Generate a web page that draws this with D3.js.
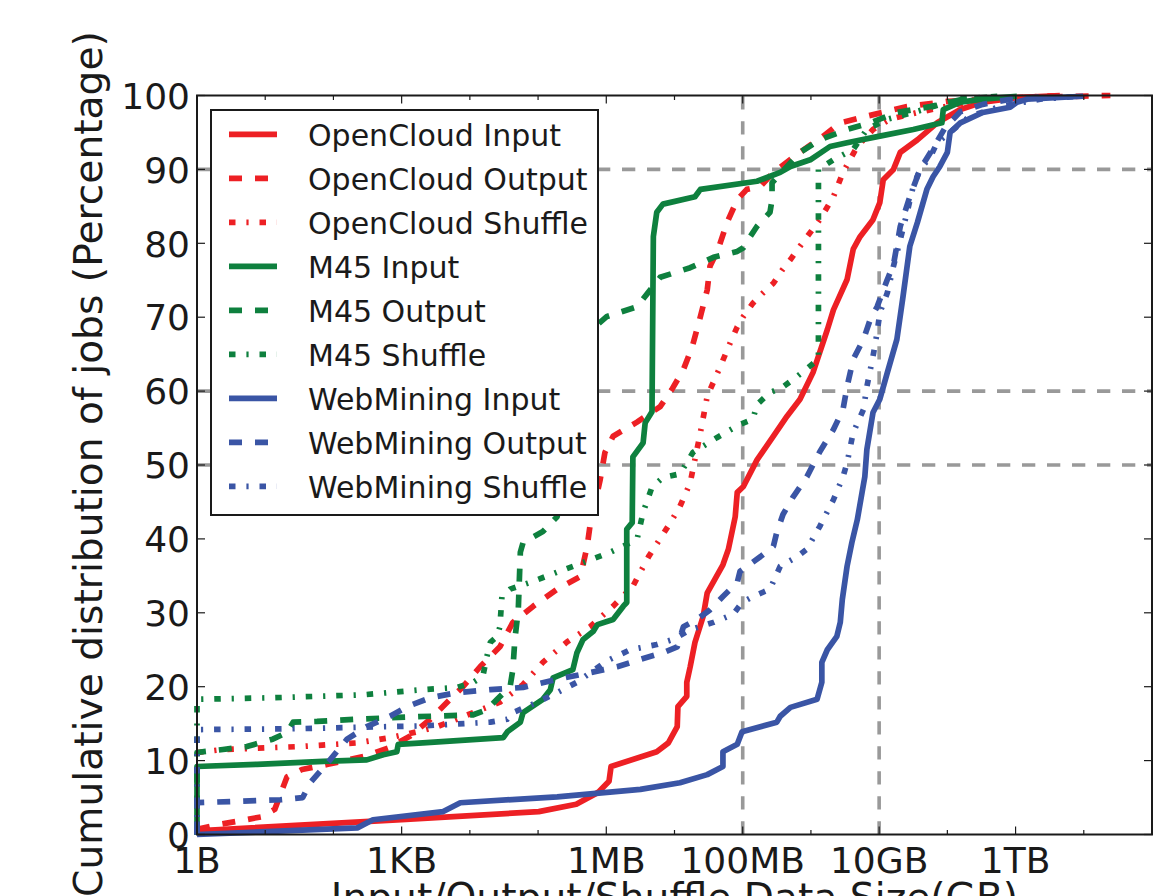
<!DOCTYPE html>
<html><head><meta charset="utf-8">
<script src="https://cdn.jsdelivr.net/npm/d3@7"></script>
<style>
body{margin:0;background:#fff}
svg{display:block}
text{font-family:"DejaVu Sans","Bitstream Vera Sans",sans-serif;fill:#1a1a1a}
</style>
</head><body>
<svg id="chart" width="1155" height="896"></svg>
<script>
// ---------------- data (sizes are log10 of bytes, values are % of jobs) ----------------
const tickExponents = [0, 3, 6, 8, 10, 12];
const tickLabels = ["1B", "1KB", "1MB", "100MB", "10GB", "1TB"];
const yTickValues = [0, 10, 20, 30, 40, 50, 60, 70, 80, 90, 100];
const refLinePercents = [50, 60, 90];
const refLineExponents = [8, 10];

const seriesNames = ["OpenCloud Input", "OpenCloud Output", "OpenCloud Shuffle",
  "M45 Input", "M45 Output", "M45 Shuffle",
  "WebMining Input", "WebMining Output", "WebMining Shuffle"];

const openCloudInputSize = [0, 3.0, 5.01, 5.56, 5.88, 6.04, 6.07, 6.74, 6.91, 7.04, 7.05, 7.18, 7.18, 7.23, 7.30, 7.42, 7.48, 7.71, 7.79, 7.89, 7.92, 8.01, 8.21, 8.45, 8.65, 8.84, 9.03, 9.24, 9.33, 9.53, 9.62, 9.72, 9.91, 10.01, 10.06, 10.21, 10.31, 10.56, 10.85, 11.19, 11.52, 12.02, 12.65];
const openCloudInputPct = [0.5, 2.0, 3.1, 4.1, 5.7, 7.2, 9.2, 11.2, 12.4, 14.6, 17.3, 18.7, 20.6, 22.7, 26.0, 29.5, 32.7, 36.5, 38.6, 43.0, 46.3, 47.1, 50.7, 53.9, 56.6, 58.9, 62.5, 68.3, 71.0, 75.1, 79.2, 80.9, 83.2, 85.5, 88.6, 90.0, 92.3, 94.0, 96.3, 98.1, 99.1, 99.7, 100];

const openCloudOutputSize = [0, 0.29, 0.60, 0.95, 1.14, 1.25, 1.32, 1.54, 1.92, 2.46, 2.83, 3.12, 3.42, 3.71, 3.90, 4.15, 4.44, 4.63, 4.93, 5.28, 5.62, 5.72, 5.76, 5.91, 5.98, 6.10, 6.45, 6.79, 6.96, 7.13, 7.26, 7.38, 7.48, 7.52, 7.64, 7.77, 7.92, 8.06, 8.26, 8.45, 8.84, 9.18, 9.43, 9.82, 10.41, 11.0, 12.02, 13.39];
const openCloudOutputPct = [0.7, 1.3, 1.8, 2.4, 3.4, 6.1, 7.8, 8.8, 9.5, 10.6, 11.8, 13.3, 15.6, 18.3, 20.0, 22.7, 25.4, 28.7, 30.9, 33.2, 34.9, 39.0, 41.7, 48.0, 51.7, 53.9, 55.8, 57.9, 60.2, 62.9, 66.0, 70.1, 73.7, 76.9, 79.2, 82.8, 85.9, 87.3, 87.7, 89.6, 92.3, 94.5, 96.3, 97.2, 98.5, 99.2, 99.7, 100];

const openCloudShuffleSize = [0, 0.38, 1.51, 2.35, 2.83, 3.23, 3.52, 3.81, 4.05, 4.25, 4.44, 4.63, 4.78, 5.07, 5.43, 5.76, 6.10, 6.39, 6.62, 6.94, 7.08, 7.23, 7.38, 7.48, 7.67, 7.82, 7.92, 8.01, 8.15, 8.30, 8.45, 8.58, 8.70, 8.84, 9.13, 9.33, 9.47, 9.68, 9.91, 10.16, 10.56, 11.19, 12.02, 12.65];
const openCloudShufflePct = [11.1, 11.5, 11.9, 12.4, 13.1, 13.9, 14.6, 15.6, 16.5, 17.2, 17.9, 19.2, 20.3, 23.3, 26.1, 28.1, 30.9, 33.6, 37.6, 42.2, 44.4, 47.6, 54.4, 59.3, 63.3, 66.6, 68.7, 70.1, 71.9, 73.3, 74.6, 76.4, 77.8, 79.6, 83.2, 86.3, 89.6, 93.1, 95.4, 96.8, 97.7, 98.9, 99.7, 100];

const m45InputSize = [0, 0, 0.88, 1.85, 2.49, 2.73, 2.93, 2.95, 3.31, 4.49, 4.55, 4.74, 4.78, 5.07, 5.18, 5.22, 5.51, 5.57, 5.66, 5.81, 5.87, 6.10, 6.25, 6.30, 6.30, 6.38, 6.39, 6.54, 6.57, 6.67, 6.69, 6.74, 6.83, 7.30, 7.38, 8.21, 8.55, 8.70, 8.99, 9.28, 9.53, 10.01, 10.50, 10.92, 10.94, 11.19, 11.52, 12.02];
const m45InputPct = [0, 9.2, 9.5, 9.9, 10.1, 10.8, 11.2, 12.2, 12.4, 13.1, 13.9, 15.2, 16.5, 18.3, 19.6, 21.2, 22.3, 24.6, 26.4, 27.5, 28.4, 29.1, 30.9, 31.4, 41.3, 42.2, 51.1, 53.0, 55.7, 57.2, 80.9, 84.2, 85.3, 86.3, 87.3, 88.4, 89.6, 90.4, 91.3, 93.1, 93.6, 94.5, 95.4, 96.3, 98.1, 99.1, 99.5, 99.9];

const m45OutputSize = [0, 0, 0.38, 0.73, 1.11, 1.32, 1.41, 1.76, 2.35, 2.83, 3.42, 4.05, 4.25, 4.40, 4.59, 4.63, 4.66, 4.71, 4.74, 4.78, 5.07, 5.28, 5.62, 6.01, 6.45, 6.79, 7.23, 7.57, 7.92, 8.01, 8.11, 8.21, 8.40, 8.43, 8.43, 8.65, 8.84, 9.13, 9.53, 9.87, 10.26, 10.75, 11.23, 11.77];
const m45OutputPct = [0, 11.1, 11.5, 11.9, 12.9, 13.8, 15.2, 15.3, 15.6, 15.8, 16.0, 16.2, 16.9, 18.3, 20.0, 22.3, 26.4, 30.4, 38.2, 39.5, 41.0, 43.0, 67.0, 70.1, 71.4, 75.4, 76.7, 78.1, 78.9, 79.4, 80.9, 82.3, 84.2, 85.9, 88.2, 90.4, 92.3, 94.0, 95.4, 96.3, 97.7, 98.5, 99.5, 99.9];

const m45ShuffleSize = [0, 0, 1.11, 2.43, 3.31, 3.81, 4.05, 4.19, 4.25, 4.30, 4.40, 4.44, 4.47, 4.59, 4.88, 5.28, 5.66, 6.06, 6.45, 6.54, 6.67, 6.83, 7.08, 7.27, 7.62, 7.96, 8.15, 8.21, 8.40, 8.58, 8.80, 9.11, 9.11, 9.33, 9.62, 9.82, 10.12, 10.50, 10.79, 11.14, 11.77];
const m45ShufflePct = [0, 18.3, 18.5, 18.9, 19.6, 19.9, 20.6, 21.4, 24.1, 26.0, 26.8, 28.1, 32.2, 33.2, 34.1, 35.5, 36.8, 38.2, 39.9, 43.6, 47.0, 48.3, 48.8, 51.7, 53.7, 55.5, 56.2, 58.2, 59.8, 60.5, 62.0, 64.3, 90.0, 91.3, 92.7, 95.4, 96.8, 97.7, 98.5, 99.5, 99.9];

const webMiningInputSize = [0, 2.35, 2.58, 3.61, 3.86, 5.28, 6.50, 7.08, 7.48, 7.71, 7.71, 7.92, 7.99, 8.50, 8.55, 8.70, 9.09, 9.16, 9.16, 9.24, 9.38, 9.43, 9.46, 9.53, 9.60, 9.68, 9.75, 9.79, 9.82, 9.91, 10.01, 10.12, 10.26, 10.35, 10.45, 10.56, 10.70, 10.79, 10.89, 11.0, 11.04, 11.19, 11.52, 11.92, 12.02, 12.17, 12.99];
const webMiningInputPct = [0, 0.9, 2.0, 3.1, 4.3, 5.1, 6.1, 7.0, 8.1, 9.2, 11.2, 12.2, 13.9, 15.2, 16.0, 17.2, 18.3, 20.6, 23.3, 25.0, 26.8, 28.7, 31.8, 36.3, 39.5, 42.6, 46.3, 48.4, 52.1, 57.1, 58.9, 62.5, 67.0, 72.8, 79.6, 82.8, 87.3, 89.0, 90.4, 92.3, 95.0, 96.3, 97.7, 98.4, 99.1, 99.5, 99.9];

const webMiningOutputSize = [0, 0, 1.22, 1.55, 1.66, 1.95, 2.20, 2.49, 2.83, 3.08, 3.42, 3.81, 4.30, 4.78, 5.28, 5.76, 6.16, 6.50, 6.83, 7.04, 7.13, 7.33, 7.52, 7.71, 7.92, 7.96, 8.26, 8.45, 8.50, 8.59, 8.74, 8.94, 9.13, 9.33, 9.47, 9.53, 9.62, 9.77, 9.87, 9.97, 10.12, 10.21, 10.31, 10.45, 10.60, 10.78, 10.97, 11.19, 11.52, 11.92, 12.51];
const webMiningOutputPct = [0, 4.3, 4.7, 5.0, 7.0, 10.1, 12.9, 14.6, 16.0, 17.3, 18.5, 19.2, 19.6, 19.9, 21.0, 21.9, 22.7, 23.7, 24.6, 25.4, 28.1, 29.1, 30.4, 32.2, 34.1, 35.6, 37.6, 39.0, 40.9, 43.3, 45.7, 48.4, 51.8, 54.8, 57.5, 60.6, 64.3, 67.0, 69.7, 71.4, 75.1, 77.1, 82.3, 86.3, 90.0, 92.7, 95.7, 97.8, 98.8, 99.5, 99.9];

const webMiningShuffleSize = [0, 0, 1.36, 2.35, 3.31, 4.30, 4.55, 4.63, 4.99, 5.28, 5.57, 6.01, 6.35, 6.74, 6.98, 7.23, 7.57, 7.86, 7.99, 8.15, 8.40, 8.55, 8.80, 8.94, 9.13, 9.33, 9.47, 9.53, 9.62, 9.77, 9.82, 9.91, 9.97, 10.01, 10.12, 10.21, 10.31, 10.41, 10.50, 10.60, 10.75, 10.85, 11.09, 11.33, 11.77, 12.36, 12.95];
const webMiningShufflePct = [0, 14.2, 14.3, 14.5, 14.7, 15.2, 15.6, 16.5, 17.9, 19.2, 20.6, 23.5, 25.0, 25.7, 26.4, 27.7, 28.7, 29.8, 31.4, 32.2, 33.2, 36.3, 37.6, 38.6, 41.7, 45.3, 48.4, 50.3, 54.4, 57.5, 60.6, 64.7, 67.9, 70.6, 73.3, 76.9, 80.5, 84.2, 87.7, 90.0, 91.7, 93.6, 95.4, 97.2, 98.5, 99.5, 99.9];

const seriesSizes = [openCloudInputSize, openCloudOutputSize, openCloudShuffleSize,
  m45InputSize, m45OutputSize, m45ShuffleSize,
  webMiningInputSize, webMiningOutputSize, webMiningShuffleSize];
const seriesPcts = [openCloudInputPct, openCloudOutputPct, openCloudShufflePct,
  m45InputPct, m45OutputPct, m45ShufflePct,
  webMiningInputPct, webMiningOutputPct, webMiningShufflePct];

// ---------------- styles ----------------
const palette = {red: "#ed2024", green: "#0e803e", blue: "#3a55a5"};
const seriesColors = [palette.red, palette.red, palette.red, palette.green, palette.green, palette.green, palette.blue, palette.blue, palette.blue];
const dashStyles = {solid: null, dashed: "13,13", dashdot: "6.5,10.9,2.2,10.9"};
const seriesDash = ["solid", "dashed", "dashdot", "solid", "dashed", "dashdot", "solid", "dashed", "dashdot"];
const lineW = 5.7;

const svg = d3.select("#chart");
const plot = {left: 197, right: 1152, top: 95.5, bottom: 834.5};

const x = d3.scaleLog().domain([1, 1e14]).range([plot.left, plot.right]);
const y = d3.scaleLinear().domain([0, 100]).range([plot.bottom, plot.top]);

svg.append("rect").attr("width", 1155).attr("height", 896).attr("fill", "#fff");

// reference dashed grey lines
const refG = svg.append("g");
refLinePercents.forEach(p => {
  refG.append("line").attr("x1", plot.left).attr("x2", plot.right)
    .attr("y1", y(p)).attr("y2", y(p))
    .attr("stroke", "#999").attr("stroke-width", 3.6).attr("stroke-dasharray", "13.3,11.7");
});
refLineExponents.forEach(e => {
  refG.append("line").attr("x1", x(Math.pow(10, e))).attr("x2", x(Math.pow(10, e)))
    .attr("y1", plot.bottom).attr("y2", plot.top)
    .attr("stroke", "#999").attr("stroke-width", 3.6).attr("stroke-dasharray", "13.3,11.7");
});

// series
const line = d3.line().x(d => x(Math.pow(10, d[0]))).y(d => y(d[1]));
const linesG = svg.append("g");
seriesNames.forEach((name, i) => {
  const xs = seriesSizes[i], ys = seriesPcts[i];
  const n = Math.min(xs.length, ys.length);
  const pts = d3.range(n).map(k => [xs[k], ys[k]]);
  linesG.append("path").datum(pts).attr("d", line)
    .attr("fill", "none").attr("stroke", seriesColors[i])
    .attr("stroke-width", lineW).attr("stroke-linejoin", "round").attr("stroke-linecap", "butt")
    .attr("stroke-dasharray", dashStyles[seriesDash[i]]);
});

// axes frame and ticks
const axG = svg.append("g").attr("stroke", "#1a1a1a");
axG.append("rect").attr("x", plot.left).attr("y", plot.top)
  .attr("width", plot.right - plot.left).attr("height", plot.bottom - plot.top)
  .attr("fill", "none").attr("stroke-width", 2);

d3.range(0, 15).forEach(e => {
  const major = tickExponents.includes(e);
  const len = major ? 8 : 4.5;
  const xp = x(Math.pow(10, e));
  axG.append("line").attr("x1", xp).attr("x2", xp).attr("y1", plot.bottom).attr("y2", plot.bottom - len).attr("stroke-width", 1.2);
  axG.append("line").attr("x1", xp).attr("x2", xp).attr("y1", plot.top).attr("y2", plot.top + len).attr("stroke-width", 1.2);
});
yTickValues.forEach(v => {
  axG.append("line").attr("x1", plot.left).attr("x2", plot.left + 8).attr("y1", y(v)).attr("y2", y(v)).attr("stroke-width", 1.2);
  axG.append("line").attr("x1", plot.right).attr("x2", plot.right - 8).attr("y1", y(v)).attr("y2", y(v)).attr("stroke-width", 1.2);
});

// tick labels
const tl = svg.append("g");
tickExponents.forEach((e, i) => {
  tl.append("text").attr("x", x(Math.pow(10, e))).attr("y", 873)
    .attr("text-anchor", "middle").attr("font-size", 36).text(tickLabels[i]);
});
yTickValues.forEach(v => {
  tl.append("text").attr("x", 190).attr("y", y(v) + 13.2)
    .attr("text-anchor", "end").attr("font-size", 36).text(v);
});

// axis titles
svg.append("text").attr("transform", "translate(102,464) rotate(-90)")
  .attr("text-anchor", "middle").attr("font-size", 39.2)
  .text("Cumulative distribution of jobs (Percentage)");
svg.append("text").attr("x", (plot.left + plot.right) / 2).attr("y", 911)
  .attr("text-anchor", "middle").attr("font-size", 39.2)
  .text("Input/Output/Shuffle Data Size(GB)");

// legend
const lg = svg.append("g");
lg.append("rect").attr("x", 211).attr("y", 110).attr("width", 387).attr("height", 405)
  .attr("fill", "#fff").attr("stroke", "#1a1a1a").attr("stroke-width", 2);
seriesNames.forEach((name, i) => {
  const ry = 134.3 + 44 * i;
  lg.append("line").attr("x1", 229).attr("x2", 277).attr("y1", ry).attr("y2", ry)
    .attr("stroke", seriesColors[i]).attr("stroke-width", lineW)
    .attr("stroke-dasharray", dashStyles[seriesDash[i]]);
  lg.append("text").attr("x", 308).attr("y", ry + 11.5).attr("font-size", 30).text(name);
});
</script>
</body></html>
